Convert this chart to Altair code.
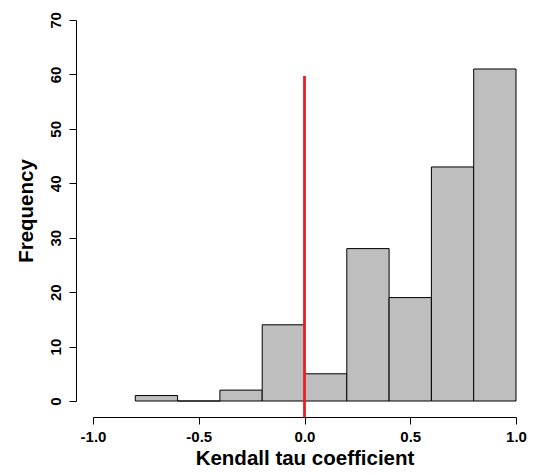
import altair as alt
import pandas as pd

bin_start = [-0.8, -0.6, -0.4, -0.2, 0.0, 0.2, 0.4, 0.6, 0.8]
bin_end = [-0.6, -0.4, -0.2, 0.0, 0.2, 0.4, 0.6, 0.8, 1.0]
counts = [1, 0, 2, 14, 5, 28, 19, 43, 61]

ref_x = [0.0]
ref_y_low = [-3.0]
ref_y_high = [59.7]

bars_df = pd.DataFrame({"start": bin_start, "end": bin_end, "count": counts})
line_df = pd.DataFrame({"x": ref_x, "y1": ref_y_low, "y2": ref_y_high})

FONT = "Liberation Sans"

xscale = alt.Scale(domain=[-1, 1], nice=False, zero=False)
yscale = alt.Scale(domain=[0, 70], nice=False)

bars = alt.Chart(bars_df).mark_rect(
    fill="#BEBEBE", stroke="black", strokeWidth=1
).encode(
    x=alt.X("start:Q", scale=xscale, axis=alt.Axis(
        title="Kendall tau coefficient", values=[-1, -0.5, 0, 0.5, 1], format=".1f",
        labelExpr="replace(datum.label, '\u2212', '-')",
        offset=16, tickSize=7, labelPadding=5, titlePadding=4,
        labelFont=FONT, labelFontWeight="bold", labelFontSize=15, labelColor="black",
        titleFont=FONT, titleFontWeight="bold", titleFontSize=20.5, titleColor="black",
        domainColor="black", tickColor="black", grid=False, labelFlush=False,
    )),
    x2="end:Q",
    y=alt.Y("count:Q", scale=yscale, axis=alt.Axis(
        title="Frequency", values=[0, 10, 20, 30, 40, 50, 60, 70],
        offset=17, tickSize=7, labelPadding=9, labelAngle=270,
        labelAlign="center", labelBaseline="alphabetic", titlePadding=12,
        labelFont=FONT, labelFontWeight="bold", labelFontSize=15, labelColor="black",
        titleFont=FONT, titleFontWeight="bold", titleFontSize=20.5, titleColor="black",
        domainColor="black", tickColor="black", grid=False, labelFlush=False,
    )),
    y2=alt.datum(0),
)

vline = alt.Chart(line_df).mark_rule(color="#EE1C25", strokeWidth=2.8, clip=False).encode(
    x=alt.X("x:Q", scale=xscale),
    y=alt.Y("y1:Q", scale=yscale),
    y2="y2:Q",
)

chart = alt.layer(bars, vline).properties(
    width=423, height=381,
    background="white",
    autosize=alt.AutoSizeParams(type="none"),
    padding={"left": 85, "top": 12, "right": 13, "bottom": 69},
).configure_view(strokeWidth=0, strokeOpacity=0)

chart.save("out.html", embed_options={"renderer": "svg", "actions": False})
